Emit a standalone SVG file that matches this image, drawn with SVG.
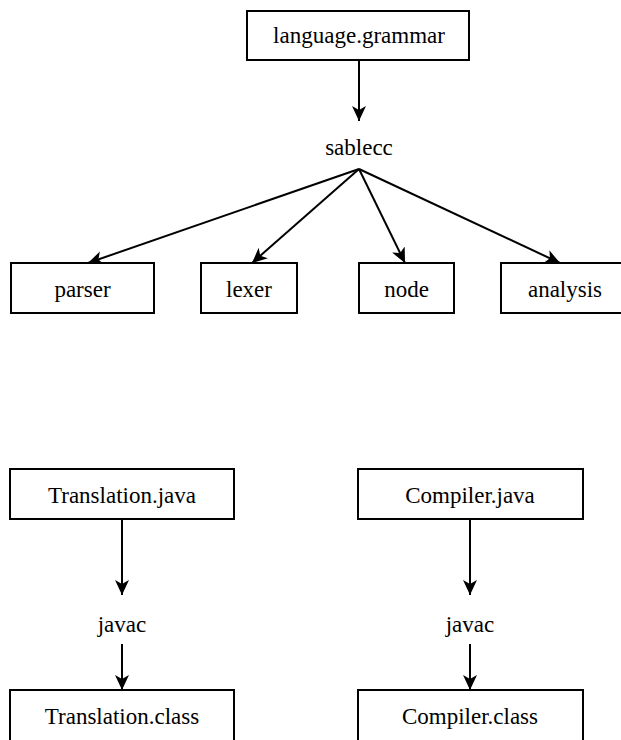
<svg xmlns="http://www.w3.org/2000/svg" width="621" height="740" viewBox="0 0 621 740">
<style>
.box{fill:#fff;stroke:#000;stroke-width:2}
.t{font-family:"Liberation Serif","Times New Roman",serif;font-size:23px;fill:#000;text-anchor:middle}
.c{stroke:#000;stroke-width:2;fill:none;marker-end:url(#arr)}
</style>
<defs>
<marker id="arr" markerWidth="16" markerHeight="16" refX="15" refY="7.5" orient="auto" markerUnits="userSpaceOnUse">
<path d="M0,0.5 L15,7.5 L0,14.5 L4,7.5 Z" fill="#000"/>
</marker>
</defs>
<rect width="621" height="740" fill="#fff"/>
<g id="connectors">
<line class="c" x1="359" y1="60" x2="359" y2="121"/>
<line class="c" x1="359" y1="169" x2="88" y2="263"/>
<line class="c" x1="359" y1="169" x2="252" y2="263"/>
<line class="c" x1="359" y1="169" x2="405" y2="263"/>
<line class="c" x1="359" y1="169" x2="560" y2="263"/>
<line class="c" x1="122" y1="519" x2="122" y2="595"/>
<line class="c" x1="122" y1="644" x2="122" y2="690"/>
<line class="c" x1="470" y1="519" x2="470" y2="595"/>
<line class="c" x1="470" y1="644" x2="470" y2="690"/>
</g>
<g id="grammar"><rect class="box" x="247" y="11" width="222" height="49"/><text class="t" x="359" y="43">language.grammar</text></g>
<g id="sablecc"><text class="t" x="359" y="155">sablecc</text></g>
<g id="parser"><rect class="box" x="11" y="263" width="143" height="50"/><text class="t" x="82.5" y="297">parser</text></g>
<g id="lexer"><rect class="box" x="201" y="263" width="96" height="50"/><text class="t" x="249" y="297">lexer</text></g>
<g id="node"><rect class="box" x="359" y="263" width="95" height="50"/><text class="t" x="406.5" y="297">node</text></g>
<g id="analysis"><rect class="box" x="501" y="263" width="128" height="50"/><text class="t" x="565" y="297">analysis</text></g>
<g id="translation-java"><rect class="box" x="10" y="469" width="224" height="50"/><text class="t" x="122" y="503">Translation.java</text></g>
<g id="javac1"><text class="t" x="122" y="632">javac</text></g>
<g id="translation-class"><rect class="box" x="10" y="690" width="224" height="52"/><text class="t" x="122" y="724">Translation.class</text></g>
<g id="compiler-java"><rect class="box" x="358" y="469" width="225" height="50"/><text class="t" x="470" y="503">Compiler.java</text></g>
<g id="javac2"><text class="t" x="470" y="632">javac</text></g>
<g id="compiler-class"><rect class="box" x="358" y="690" width="225" height="52"/><text class="t" x="470" y="724">Compiler.class</text></g>
</svg>
